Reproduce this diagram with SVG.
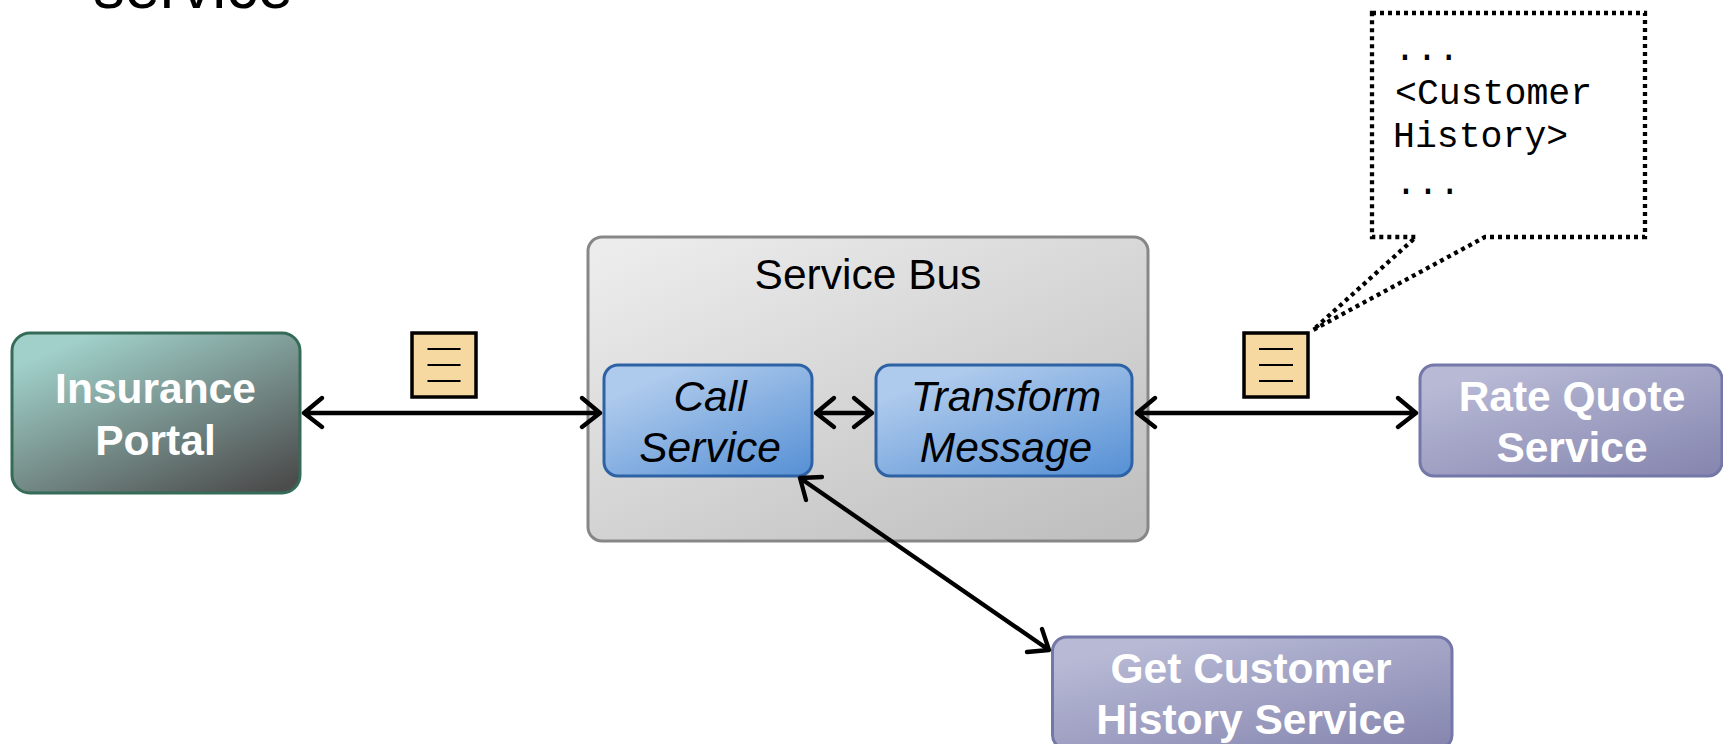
<svg xmlns="http://www.w3.org/2000/svg" width="1723" height="744" viewBox="0 0 1723 744">
<style>
text{font-family:"Liberation Sans",Arial,sans-serif;font-size:42.500px;text-anchor:middle}
.w{fill:#fff;font-weight:bold}
.i{fill:#000;font-style:italic}
.m{font-family:"Liberation Mono","Courier New",monospace;font-size:36.500px;text-anchor:start;fill:#000}
.c{fill:none;stroke:#000;stroke-width:4.300;stroke-linecap:round;stroke-linejoin:round}
.doc{fill:#f5d9a0;stroke:#000;stroke-width:3.500}
.l{stroke:#000;stroke-width:2}
.bl{fill:url(#gb);stroke:#2d63a4;stroke-width:3}
.pu{fill:url(#gp);stroke:#7378a8;stroke-width:3}
</style>
<defs>
<linearGradient id="gt" x1="0.12" y1="0" x2="0.88" y2="1"><stop offset="0.08" stop-color="#a0d0c9"/><stop offset="1" stop-color="#4c4c4c"/></linearGradient>
<linearGradient id="gb" x1="0.1" y1="0" x2="0.9" y2="1"><stop offset="0.15" stop-color="#aecaec"/><stop offset="1" stop-color="#5a93d6"/></linearGradient>
<linearGradient id="gp" x1="0.1" y1="0" x2="0.9" y2="1"><stop offset="0.1" stop-color="#b7b9d5"/><stop offset="1" stop-color="#8787b0"/></linearGradient>
<linearGradient id="gg" x1="0.1" y1="0" x2="0.9" y2="1"><stop offset="0" stop-color="#ececec"/><stop offset="1" stop-color="#bfbfbf"/></linearGradient>
</defs>
<rect width="1723" height="744" fill="#fff"/>
<text id="title" x="193" y="8" style="font-size:63px" fill="#000">service</text>
<g id="insurance-portal">
<rect x="12" y="333" width="288" height="160" rx="18" fill="url(#gt)" stroke="#356b57" stroke-width="3"/>
<text class="w" x="155.500" y="403">Insurance</text>
<text class="w" x="155.500" y="455">Portal</text>
</g>
<g id="service-bus">
<rect x="588" y="237" width="560" height="304" rx="14" fill="url(#gg)" stroke="#878787" stroke-width="3"/>
<text x="868" y="289" fill="#000">Service Bus</text>
</g>
<g id="call-service">
<rect class="bl" x="604" y="365" width="208" height="111" rx="14"/>
<text class="i" x="710" y="411">Call</text>
<text class="i" x="710" y="462">Service</text>
</g>
<g id="transform-message">
<rect class="bl" x="876" y="365" width="256" height="111" rx="14"/>
<text class="i" x="1006" y="411">Transform</text>
<text class="i" x="1006" y="462">Message</text>
</g>
<g id="rate-quote-service">
<rect class="pu" x="1420" y="365" width="302" height="111" rx="14"/>
<text class="w" x="1572" y="411">Rate Quote</text>
<text class="w" x="1572" y="462">Service</text>
</g>
<g id="get-customer-history-service">
<rect class="pu" x="1052.500" y="637" width="399.500" height="112" rx="14"/>
<text class="w" x="1251" y="683">Get Customer</text>
<text class="w" x="1251" y="734">History Service</text>
</g>
<g id="message-1">
<rect class="doc" x="412" y="333" width="64" height="64"/>
<path class="l" d="M427.500 349H460.500M427.500 365H460.500M427.500 381H460.500"/>
</g>
<g id="message-2">
<rect class="doc" x="1244" y="333" width="64" height="64"/>
<path class="l" d="M1259 349H1293M1259 365H1293M1259 381H1293"/>
</g>
<g id="callout">
<path d="M1372 13H1645V237H1485L1313 330L1416 237H1372Z" fill="#fff" stroke="#000" stroke-width="4.300" stroke-dasharray="4 4"/>
<text class="m" x="1394" y="60">...</text>
<text class="m" x="1395" y="104">&lt;Customer</text>
<text class="m" x="1393" y="147">History&gt;</text>
<text class="m" x="1395" y="194">...</text>
</g>
<g id="connectors">
<path class="c" d="M304 413H600M322 398L304 413L322 427M582 398L600 413L582 427"/>
<path class="c" d="M816 413H872M834 398L816 413L834 427M854 398L872 413L854 427"/>
<path class="c" d="M1137 413H1416M1155 398L1137 413L1155 427M1398 398L1416 413L1398 427"/>
<path class="c" d="M800 478L1049 650M822 477L800 478L806 500M1042 629L1049 650L1027 652"/>
</g>
</svg>
